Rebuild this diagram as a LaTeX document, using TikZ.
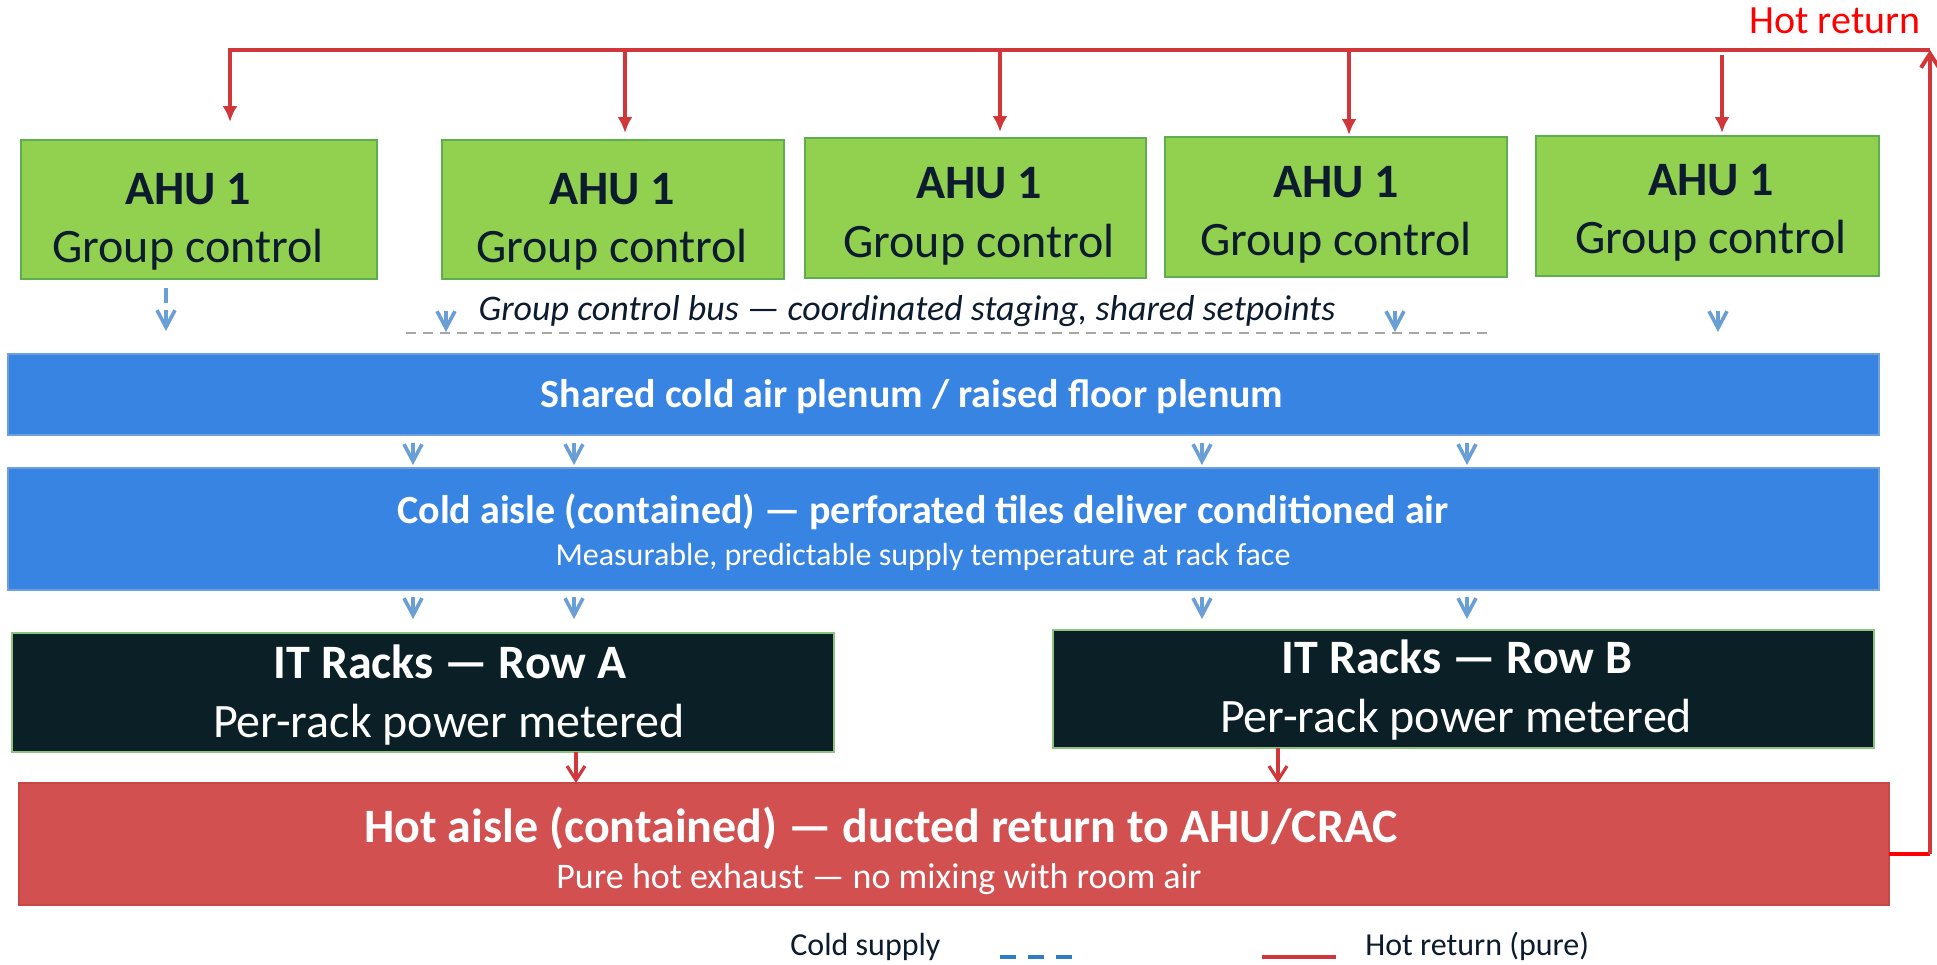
\documentclass[tikz,border=0pt]{standalone}
\usepackage{fontspec}
\setmainfont{Carlito}
\usetikzlibrary{arrows.meta}
\definecolor{ahufill}{HTML}{92D050}
\definecolor{ahudraw}{HTML}{5EAD4E}
\definecolor{plenfill}{HTML}{3784E3}
\definecolor{plendraw}{HTML}{6C9FDB}
\definecolor{rackfill}{HTML}{0B1F26}
\definecolor{rackdraw}{HTML}{8DC27F}
\definecolor{hotfill}{HTML}{D35051}
\definecolor{hotdraw}{HTML}{C94646}
\definecolor{textdark}{HTML}{0D1B2E}
\definecolor{hotline}{HTML}{D1363A}
\definecolor{coldc}{HTML}{6A9FD5}
\definecolor{legblue}{HTML}{2F7EC1}
\definecolor{busgray}{HTML}{A6A6A6}
\newcommand{\bx}[6]{\node[#2, minimum width={(#5-#3)*0.5pt}, minimum height={(#6-#4)*0.5pt}] (#1) at ({(#3+#5)/2},{(#4+#6)/2}) {};}
\begin{document}
\begin{tikzpicture}[x=0.5pt,y=-0.5pt,
  boxbase/.style={rectangle, inner sep=0pt, outer sep=0pt},
  ahu/.style={boxbase, fill=ahufill, draw=ahudraw, line width=1.4pt},
  plen/.style={boxbase, fill=plenfill, draw=plendraw, line width=0.9pt},
  rack/.style={boxbase, fill=rackfill, draw=rackdraw, line width=1.1pt},
  hotbox/.style={boxbase, fill=hotfill, draw=hotdraw, line width=0.9pt},
  ahut/.style={anchor=base, inner sep=0pt, text=textdark, font=\fontsize{24}{28}\selectfont\bfseries},
  ahus/.style={anchor=base, inner sep=0pt, text=textdark, font=\fontsize{24}{28}\selectfont},
  bus/.style={anchor=base, inner sep=0pt, text=textdark, font=\fontsize{18}{22}\selectfont\itshape},
  wtitle/.style={anchor=base, inner sep=0pt, text=white, font=\fontsize{20}{24}\selectfont\bfseries},
  wsub/.style={anchor=base, inner sep=0pt, text=white, font=\fontsize{16}{20}\selectfont},
  rtitle/.style={anchor=base, inner sep=0pt, text=white, font=\fontsize{24}{28}\selectfont\bfseries},
  rsub/.style={anchor=base, inner sep=0pt, text=white, font=\fontsize{24}{28}\selectfont},
  htitle/.style={anchor=base, inner sep=0pt, text=white, font=\fontsize{24}{28}\selectfont\bfseries},
  hsub/.style={anchor=base, inner sep=0pt, text=white, font=\fontsize{18}{22}\selectfont},
  legtext/.style={anchor=base west, inner sep=0pt, text=textdark, font=\fontsize{16}{20}\selectfont},
  hotln/.style={draw=hotline, line width=2pt},
  hotarr/.style={hotln, -{Latex[length=8pt,width=7.5pt]}},
  hotup/.style={hotln, -{Straight Barb[length=7pt,width=9pt]}},
  hotsmall/.style={draw=hotline, line width=1.6pt, -{Straight Barb[length=7pt,width=9pt]}},
  coldarr/.style={draw=coldc, line width=1.8pt, -{Straight Barb[length=8.5pt,width=9pt]}},
  busline/.style={draw=busgray, line width=0.9pt, dash pattern=on 5pt off 3.5pt},
]
\useasboundingbox (0,0) rectangle (1937,964);

% ---------- boxes ----------
\bx{ahu1}{ahu}{21}{140}{377}{279}
\bx{ahu2}{ahu}{442}{140}{784}{279}
\bx{ahu3}{ahu}{805}{138}{1146}{278}
\bx{ahu4}{ahu}{1165}{137}{1507}{277}
\bx{ahu5}{ahu}{1536}{136}{1879}{276}
\bx{plenum}{plen}{8}{354}{1879}{435}
\bx{cold}{plen}{8}{468}{1879}{590}
\bx{rowa}{rack}{12}{633}{834}{752}
\bx{rowb}{rack}{1053}{630}{1874}{748}
\bx{hot}{hotbox}{19}{783}{1889}{905}

% ---------- AHU labels ----------
\node[ahut] (t1) at (188,204) {AHU 1};
\node[ahus] (s1) at (188,262) {Group control};
\node[ahut] (t2) at (612,204) {AHU 1};
\node[ahus] (s2) at (612,262) {Group control};
\node[ahut] (t3) at (979,198) {AHU 1};
\node[ahus] (s3) at (979,257) {Group control};
\node[ahut] (t4) at (1336,197) {AHU 1};
\node[ahus] (s4) at (1336,255) {Group control};
\node[ahut] (t5) at (1711,195) {AHU 1};
\node[ahus] (s5) at (1711,253) {Group control};

% ---------- other labels ----------
\node[bus] (bustext) at (907,320) {Group control bus — coordinated staging, shared setpoints};
\node[wtitle] (plent) at (912,407) {Shared cold air plenum / raised floor plenum};
\node[wtitle] (coldt) at (923,523) {Cold aisle (contained) — perforated tiles deliver conditioned air};
\node[wsub] (colds) at (923,565) {Measurable, predictable supply temperature at rack face};
\node[rtitle] (rowat) at (450,678) {IT Racks — Row A};
\node[rsub] (rowas) at (449,737) {Per-rack power metered};
\node[rtitle] (rowbt) at (1457,673) {IT Racks — Row B};
\node[rsub] (rowbs) at (1456,732) {Per-rack power metered};
\node[htitle] (hott) at (881,842) {Hot aisle (contained) — ducted return to AHU/CRAC};
\node[hsub] (hots) at (879,888) {Pure hot exhaust — no mixing with room air};
\node[anchor=base west, inner sep=0pt, text=red, font=\fontsize{20}{24}\selectfont] (hrlabel) at (1749,33) {Hot return};

% ---------- hot return loop ----------
\coordinate (tl) at (230,50);
\coordinate (tr) at (1930,50);
\coordinate (hr) at (1930,854);
\coordinate (d2) at (625,50);
\coordinate (d3) at (1000,50);
\coordinate (d4) at (1349,50);
\coordinate (d5) at (1722,50);
\draw[draw=red, line width=2.2pt] (hot.east |- hr) -- (hr);
\draw[hotup] (hr) -- (tr);
\draw[hotarr, shorten >=9pt] (tr) -- (tl) -- (tl |- ahu1.north);
\draw[hotarr, shorten >=3.5pt] (d2) -- (d2 |- ahu2.north);
\draw[hotarr, shorten >=3pt] (d3) -- (d3 |- ahu3.north);
\draw[hotarr, shorten >=1pt] (d4) -- (d4 |- ahu4.north);
\draw[hotarr, shorten >=1.5pt, shorten <=2.5pt] (d5) -- (d5 |- ahu5.north);

% ---------- group control bus ----------
\coordinate (busl) at (406,333);
\coordinate (busr) at (1489,333);
\draw[busline] (busl) -- (busr);

% ---------- cold supply arrows ----------
\coordinate (c1s) at (166,288);
\coordinate (c1e) at (166,331);
\draw[coldarr, dash pattern=on 7.5pt off 3.5pt] (c1s) -- (c1e);
\foreach \x/\n in {446/2,1395/3,1718/4}{
  \coordinate (cs\n) at (\x,311);
  \coordinate (ce\n) at (\x,332);
  \draw[coldarr] (cs\n) -- (ce\n);
}
\foreach \x/\n in {413/1,574/2,1202/3,1467/4}{
  \coordinate (ps\n) at (\x,443);
  \coordinate (pe\n) at (\x,465);
  \draw[coldarr] (ps\n) -- (pe\n);
  \coordinate (qs\n) at (\x,597);
  \coordinate (qe\n) at (\x,619);
  \draw[coldarr] (qs\n) -- (qe\n);
}

% ---------- rack exhaust ----------
\coordinate (ra) at (576,0);
\coordinate (rb) at (1278,0);
\draw[hotsmall] (rowa.south -| ra) -- (hot.north -| ra);
\draw[hotsmall] (rowb.south -| rb) -- (hot.north -| rb);

% ---------- legend ----------
\node[legtext] (lcold) at (790,955) {Cold supply};
\coordinate (lb1) at (1000,957);
\coordinate (lb2) at (1072,957);
\draw[draw=legblue, line width=2pt, dash pattern=on 8pt off 6pt] (lb1) -- (lb2);
\coordinate (lr1) at (1262,957);
\coordinate (lr2) at (1336,957);
\draw[draw=hotline, line width=2.2pt] (lr1) -- (lr2);
\node[legtext] (lhot) at (1365,955) {Hot return (pure)};
\end{tikzpicture}
\end{document}
